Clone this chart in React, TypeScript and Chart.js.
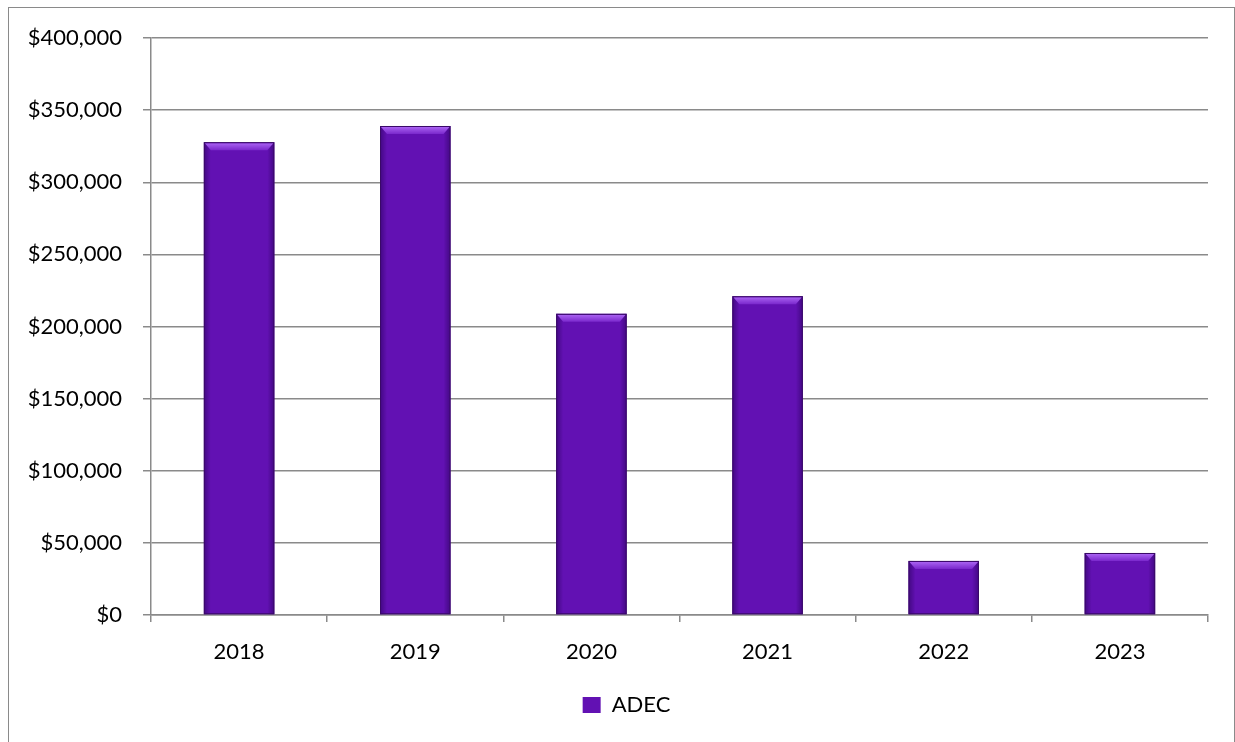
import React, { useEffect, useRef } from "react";
import { Chart, registerables } from "chart.js";

Chart.register(...registerables);

const categories = ["2018", "2019", "2020", "2021", "2022", "2023"];
const seriesName = "ADEC";
const adecValues = [327800, 339000, 208800, 221000, 37500, 43000];
const yTickStep = 50000;
const yMax = 400000;

const FONT = "Lato, 'Open Sans', sans-serif";

const bevelPlugin = {
  id: "bevel",
  afterLayout(chart: any) {
    const lg = chart.legend;
    if (lg) {
      lg.left += 18;
      lg.right += 18;
    }
  },
  afterDatasetsDraw(chart: any) {
    const ctx = chart.ctx;
    const meta = chart.getDatasetMeta(0);
    meta.data.forEach((bar: any) => {
      const { x, y, base, width } = bar.getProps(["x", "y", "base", "width"], true);
      const l = x - width / 2;
      const r = x + width / 2;
      const h = base - y;
      const bev = Math.min(8, h / 3);
      ctx.save();
      let g = ctx.createLinearGradient(l, 0, l + 7, 0);
      g.addColorStop(0, "rgba(40,0,90,0.55)");
      g.addColorStop(1, "rgba(40,0,90,0)");
      ctx.fillStyle = g;
      ctx.fillRect(l, y, 7, h);
      g = ctx.createLinearGradient(r, 0, r - 7, 0);
      g.addColorStop(0, "rgba(40,0,90,0.55)");
      g.addColorStop(1, "rgba(40,0,90,0)");
      ctx.fillStyle = g;
      ctx.fillRect(r - 7, y, 7, h);
      g = ctx.createLinearGradient(0, y, 0, y + bev);
      g.addColorStop(0, "#b06af7");
      g.addColorStop(1, "#7a28cc");
      ctx.fillStyle = g;
      ctx.beginPath();
      ctx.moveTo(l + 1, y + 1);
      ctx.lineTo(r - 1, y + 1);
      ctx.lineTo(r - 7, y + bev);
      ctx.lineTo(l + 7, y + bev);
      ctx.closePath();
      ctx.fill();
      ctx.strokeStyle = "#3a0a68";
      ctx.lineWidth = 1;
      ctx.strokeRect(l + 0.5, y + 0.5, width - 1, h - 1);
      ctx.restore();
    });
  },
};

export default function App() {
  const ref = useRef<HTMLCanvasElement | null>(null);

  useEffect(() => {
    document.body.style.overflow = "hidden";
    const canvas = ref.current;
    if (!canvas) return;
    const chart = new Chart(canvas, {
      type: "bar",
      data: {
        labels: categories,
        datasets: [
          {
            label: seriesName,
            data: adecValues,
            backgroundColor: "#6211b3",
            borderWidth: 0,
            barPercentage: 0.8,
            categoryPercentage: 0.5,
          },
        ],
      },
      plugins: [bevelPlugin],
      options: {
        responsive: false,
        animation: false,
        layout: { padding: { top: 30, right: 26, left: 0, bottom: 16 } },
        scales: {
          x: {
            grid: {
              offset: true,
              drawOnChartArea: false,
              drawTicks: true,
              tickLength: 7,
              color: "#8a8a8a",
              lineWidth: 1.5,
            },
            border: { color: "#8a8a8a", width: 1.5 },
            ticks: {
              color: "#000",
              font: { family: FONT, size: 22 },
              padding: 17,
            },
            afterFit(scale: any) {
              scale.height = 69;
            },
          },
          y: {
            min: 0,
            max: yMax,
            grid: { color: "#8a8a8a", tickLength: 8, lineWidth: 1.5 },
            border: { color: "#8a8a8a", width: 1.5 },
            ticks: {
              stepSize: yTickStep,
              color: "#000",
              font: { family: FONT, size: 22 },
              padding: 21,
              callback: (v: any) => "$" + Number(v).toLocaleString("en-US"),
            },
            afterFit(scale: any) {
              scale.width = 142;
              scale.paddingTop = 0;
              scale.paddingBottom = 0;
            },
          },
        },
        plugins: {
          legend: {
            position: "bottom",
            labels: {
              color: "#000",
              font: { family: FONT, size: 22 },
              boxWidth: 18,
              boxHeight: 16,
              padding: 10,
            },
          },
          tooltip: { enabled: false },
        },
      },
    });
    return () => chart.destroy();
  }, []);

  return (
    <div
      style={{
        position: "absolute",
        left: 8,
        top: 7,
        width: 1227,
        height: 735,
        boxSizing: "border-box",
        borderTop: "1px solid #8a8a8a",
        borderLeft: "1px solid #8a8a8a",
        borderRight: "1px solid #8a8a8a",
        background: "#fff",
      }}
    >
      <canvas ref={ref} width={1225} height={734} style={{ display: "block" }} />
    </div>
  );
}
